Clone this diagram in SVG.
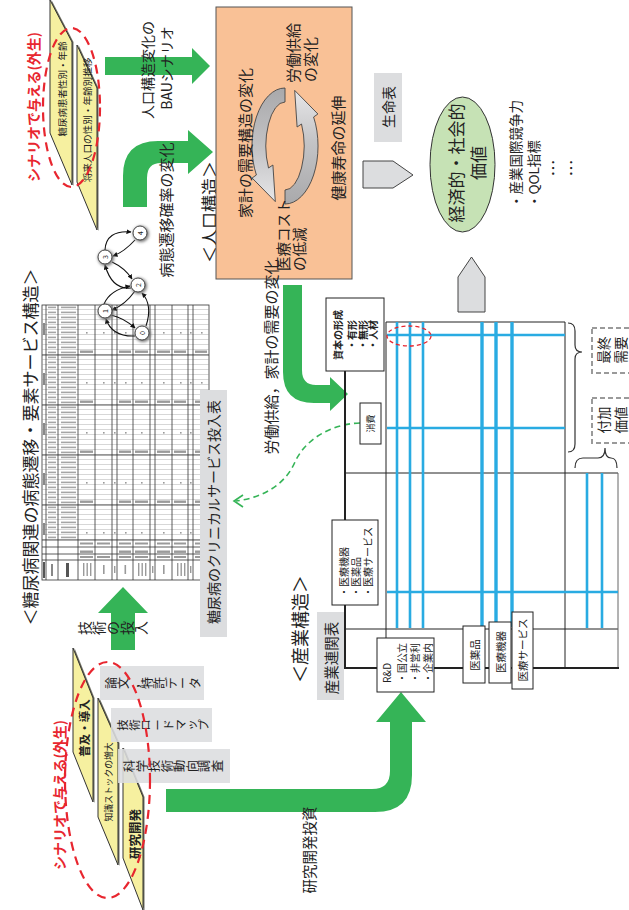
<svg xmlns="http://www.w3.org/2000/svg" width="629" height="910" viewBox="0 0 629 910">
<defs>
<style>
.t{font-family:"Noto Sans CJK JP","Noto Sans CJK SC","Noto Sans",sans-serif;fill:#222}
.v{text-anchor:middle;dominant-baseline:central}
.s{text-anchor:start;dominant-baseline:central}
.grn{fill:#35b457}
.gbox{fill:#dcdddf}
.wb{fill:#fff;stroke:#222;stroke-width:1}
.bl{stroke:#29abe2;stroke-width:2.6;fill:none}
.bl2{stroke:#29abe2;stroke-width:3.4;fill:none}
.yl{fill:#f6f0a0;stroke:#333;stroke-width:1}
.ysh{fill:#6f6f60}
.rdash{fill:none;stroke:#e8262f;stroke-width:2.2;stroke-dasharray:9 6}
.red{fill:#e8262f;font-weight:bold}
.fr{stroke:#222;stroke-width:1;fill:none}
.tl{stroke:#333;stroke-width:0.8;fill:none}
.edge{fill:none;stroke:#111;stroke-width:1.1;marker-end:url(#ah)}
.dbox{fill:#fff;stroke:#9a9a9a;stroke-width:2;stroke-dasharray:5 3}
.mk{fill:#9a9a9a}
.node{fill:#fff;stroke:#333;stroke-width:0.9}
.shd{fill:#777;filter:url(#blur)}
.pent{fill:#dcdddf;stroke:#444;stroke-width:1}
</style>
<marker id="ah" viewBox="0 0 10 10" refX="9" refY="5" markerWidth="5" markerHeight="5" markerUnits="userSpaceOnUse" orient="auto"><path d="M0,0 L10,5 L0,10 Z" fill="#111"/></marker>
<filter id="blur" x="-60%" y="-60%" width="220%" height="220%"><feGaussianBlur stdDeviation="1.8"/></filter>
<linearGradient id="gA" x1="0" y1="0" x2="0" y2="1"><stop offset="0" stop-color="#a9a9ab"/><stop offset="0.55" stop-color="#c4c4c6"/><stop offset="1" stop-color="#e6e6e8"/></linearGradient>
<linearGradient id="gB" x1="0" y1="0" x2="0" y2="1"><stop offset="0" stop-color="#e6e6e8"/><stop offset="0.45" stop-color="#c4c4c6"/><stop offset="1" stop-color="#a9a9ab"/></linearGradient>
<pattern id="rows" patternUnits="userSpaceOnUse" x="42" y="305" width="167" height="5">
<line x1="0" y1="4.8" x2="167" y2="4.8" stroke="#8a8a8a" stroke-width="0.5"/>
<rect x="6" y="1.6" width="8" height="1.6" fill="#a5a5a5"/>
<rect x="19" y="1.6" width="15" height="1.6" fill="#a5a5a5"/>
</pattern>
<g id="gm">
<rect x="43" y="18" width="2" height="12" fill="#8a8a8a"/>
<g class="mk">
<rect x="80" y="45.5" width="13" height="2.4"/><rect x="119" y="45.5" width="12" height="2.4"/><rect x="135" y="45.5" width="13" height="2.4"/><rect x="157" y="45.5" width="13" height="2.4"/><rect x="174" y="45.5" width="12" height="2.4"/><rect x="195" y="45.5" width="12" height="2.4"/>
<rect x="86" y="27" width="1.6" height="1.6"/><rect x="103" y="27" width="1.6" height="1.6"/><rect x="114" y="27" width="1.6" height="1.6"/><rect x="125" y="27" width="1.6" height="1.6"/><rect x="141" y="27" width="1.6" height="1.6"/><rect x="163" y="27" width="1.6" height="1.6"/><rect x="180" y="27" width="1.6" height="1.6"/><rect x="190" y="27" width="1.6" height="1.6"/><rect x="201" y="27" width="1.6" height="1.6"/>
</g>
</g>
</defs>

<rect x="0" y="0" width="629" height="910" fill="#fff"/>

<!-- connectors -->
<g id="connectors">
<path class="grn" d="M105,57 L192,57 L192,48 L210,66 L192,84 L192,75 L105,75 Z"/>
<path class="grn" d="M123,207 L123,176 Q123,141 158,141 L188,141 L188,130 L213,152 L188,174 L188,163 L161,163 Q147,163 147,178 L147,207 Z"/>
<path class="grn" d="M283,285 L283,372 Q283,403 314,403 L330,403 L330,411 L348,394 L330,377 L330,385 L316,385 Q302,385 302,370 L302,285 Z"/>
<path class="grn" d="M111,650 L111,613 L98,613 L123,587 L148,613 L135,613 L135,650 Z"/>
<path class="grn" d="M166,789 L372,789 Q390,789 390,771 L390,722 L376,722 L401,692 L426,722 L412,722 L412,775 Q412,812 375,812 L166,812 Z"/>
<path d="M360,423 C330,424 305,440 295,462 C285,485 262,498 236,501" fill="none" stroke="#35b457" stroke-width="1.6" stroke-dasharray="6 4"/>
<path d="M243,495 L234,501 L243,507" fill="none" stroke="#35b457" stroke-width="1.6"/>
<polygon class="pent" points="363,161 393,161 413,175 393,188 363,188"/>
<polygon class="pent" points="458,312 458,277 471.5,257 485,277 485,312"/>
</g>

<g id="title-left"><text class="t v" font-size="17" transform="translate(29,447) rotate(-90)">＜糖尿病関連の病態遷移・要素サービス構造＞</text></g>

<g id="scenario-top">
<polygon class="ysh" points="51.5,0 73.5,42 73.5,186 51.5,134"/>
<polygon class="yl" points="50,0 72,42 72,185 50,133"/>
<polygon class="ysh" points="78.5,45 98.5,88 98.5,231 78.5,183"/>
<polygon class="yl" points="77,45 97,88 97,230 77,182"/>
<text class="t v" font-size="9.5" transform="translate(62,89) rotate(-90)">糖尿病患者性別・年齢</text>
<text class="t v" font-size="9.6" transform="translate(87,120) rotate(-90)">将来人口の性別・年齢別推移</text>
<ellipse class="rdash" cx="71.5" cy="107.5" rx="28.5" ry="79.5"/>
<text class="t v red" font-size="14" transform="translate(33,107) rotate(-90)">シナリオで与える(外生)</text>
</g>

<g id="label-bau">
<text class="t v" font-size="14" transform="translate(147,70) rotate(-90)">人口構造変化の</text>
<text class="t v" font-size="14" transform="translate(166,68) rotate(-90)">BAUシナリオ</text>
</g>
<g id="label-transition"><text class="t v" font-size="15" transform="translate(165,210) rotate(-90)">病態遷移確率の変化</text></g>
<g id="title-pop"><text class="t v" font-size="17" transform="translate(208,212) rotate(-90)">＜人口構造＞</text></g>

<g id="population-box">
<rect x="216" y="7" width="136" height="272" fill="#f9c196" stroke="#555" stroke-width="1"/>
<path d="M285,88 A33,58 0 0 0 256.4,175 L252.1,178 L275.3,201.6 L272.9,165 L268.5,168 A19,44 0 0 1 285,102 Z" fill="url(#gA)" stroke="#444" stroke-width="0.9"/>
<path d="M285,204 A33,58 0 0 0 313.6,117 L317.9,114 L294.7,90.4 L297.1,127 L301.5,124 A19,44 0 0 1 285,190 Z" fill="url(#gB)" stroke="#444" stroke-width="0.9"/>
<text class="t v" font-size="15" transform="translate(244,143) rotate(-90)">家計の需要構造の変化</text>
<text class="t s" font-size="15" transform="translate(292,83) rotate(-90)">労働供給</text>
<text class="t s" font-size="15" transform="translate(309,82) rotate(-90)">の変化</text>
<text class="t v" font-size="15" transform="translate(337,148) rotate(-90)">健康寿命の延伸</text>
<text class="t s" font-size="14.5" transform="translate(282,271) rotate(-90)">医療コスト</text>
<text class="t s" font-size="14.5" transform="translate(298,271) rotate(-90)">の低減</text>
</g>

<g id="life-table">
<rect class="gbox" x="374" y="73" width="28" height="69"/>
<text class="t v" font-size="14" transform="translate(388,107) rotate(-90)">生命表</text>
</g>

<g id="value">
<ellipse cx="462.5" cy="164.5" rx="32.5" ry="67.5" fill="#c6e2b5" stroke="#333" stroke-width="1"/>
<text class="t v" font-size="17" transform="translate(455,163) rotate(-90)">経済的・社会的</text>
<text class="t v" font-size="17" transform="translate(477,163) rotate(-90)">価値</text>
<text class="t s" font-size="13.5" transform="translate(515,208) rotate(-90)">・産業国際競争力</text>
<text class="t s" font-size="13.5" transform="translate(533,208) rotate(-90)">・QOL指標</text>
<text class="t v" font-size="17" transform="translate(552,168) rotate(-90)">…</text>
<text class="t v" font-size="17" transform="translate(570,168) rotate(-90)">…</text>
</g>

<g id="labor-label"><text class="t v" font-size="15" transform="translate(270,357) rotate(-90)">労働供給，家計の需要の変化</text></g>

<g id="clinical-table">
<rect x="42" y="305" width="167" height="275" fill="#fff" stroke="#333" stroke-width="0.8"/>
<rect x="42" y="305" width="167" height="235" fill="url(#rows)"/>
<use href="#gm" y="305"/><use href="#gm" y="355"/><use href="#gm" y="405"/><use href="#gm" y="455"/><use href="#gm" y="505"/>
<g class="tl">
<line x1="42" y1="355" x2="209" y2="355"/><line x1="42" y1="405" x2="209" y2="405"/><line x1="42" y1="455" x2="209" y2="455"/><line x1="42" y1="505" x2="209" y2="505"/>
<line x1="42" y1="540" x2="209" y2="540"/><line x1="42" y1="547" x2="209" y2="547"/><line x1="42" y1="554" x2="209" y2="554"/><line x1="42" y1="560" x2="209" y2="560"/>
<line x1="46" y1="305" x2="46" y2="580"/><line x1="58" y1="305" x2="58" y2="580"/><line x1="78" y1="305" x2="78" y2="580"/><line x1="95" y1="305" x2="95" y2="580"/><line x1="112" y1="305" x2="112" y2="580"/><line x1="117" y1="305" x2="117" y2="580"/><line x1="133" y1="305" x2="133" y2="580"/><line x1="150" y1="305" x2="150" y2="580"/><line x1="155" y1="305" x2="155" y2="580"/><line x1="172" y1="305" x2="172" y2="580"/><line x1="188" y1="305" x2="188" y2="580"/><line x1="193" y1="305" x2="193" y2="580"/>
</g>
<g class="mk">
<rect x="80" y="542.5" width="13" height="2"/><rect x="97" y="542.5" width="13" height="2"/><rect x="119" y="542.5" width="12" height="2"/><rect x="135" y="542.5" width="13" height="2"/><rect x="157" y="542.5" width="13" height="2"/><rect x="174" y="542.5" width="12" height="2"/><rect x="195" y="542.5" width="12" height="2"/>
<rect x="80" y="556" width="13" height="2"/><rect x="97" y="556" width="13" height="2"/><rect x="119" y="556" width="12" height="2"/><rect x="135" y="556" width="13" height="2"/><rect x="157" y="556" width="13" height="2"/><rect x="174" y="556" width="12" height="2"/><rect x="195" y="556" width="12" height="2"/>
<rect x="83" y="563" width="1.4" height="13"/><rect x="86.5" y="563" width="1.4" height="13"/><rect x="90" y="563" width="1.4" height="13"/>
<rect x="103" y="565" width="1.6" height="9"/><rect x="114" y="566" width="1.4" height="7"/><rect x="124.5" y="565" width="1.6" height="9"/>
<rect x="138" y="563" width="1.4" height="13"/><rect x="141.5" y="563" width="1.4" height="13"/><rect x="145" y="563" width="1.4" height="13"/>
<rect x="152" y="566" width="1.4" height="7"/><rect x="163" y="565" width="1.6" height="9"/>
<rect x="177" y="563" width="1.4" height="13"/><rect x="180.5" y="563" width="1.4" height="13"/><rect x="184" y="563" width="1.4" height="13"/>
<rect x="190" y="566" width="1.4" height="7"/><rect x="200" y="565" width="1.6" height="9"/>
</g>
<rect x="43" y="562" width="2" height="16" fill="#555"/>
<rect x="51" y="564" width="2" height="12" fill="#888"/>
<rect x="66" y="563" width="3" height="14" fill="#555"/>
</g>

<g id="transition-graph">
<path class="edge" d="M105,250 Q106,230 131,232"/>
<path class="edge" d="M135,240 Q124,252 113,256"/>
<path class="edge" d="M112,262 Q125,268 132,279"/>
<path class="edge" d="M131,288 Q112,290 105,265"/>
<path class="edge" d="M104,304 Q110,290 130,286"/>
<path class="edge" d="M135,291 Q125,305 112,310"/>
<path class="edge" d="M111,315 Q124,318 135,328"/>
<path class="edge" d="M135,336 Q112,337 106,319"/>
<path class="edge" d="M146,326 Q153,305 142,293"/>
<g id="n4"><circle class="shd" cx="141" cy="234" r="8"/><circle class="node" cx="140" cy="233" r="7"/><text class="t v" font-size="7" transform="translate(140,233) rotate(-90)">4</text></g>
<g id="n3"><circle class="shd" cx="106" cy="258" r="8"/><circle class="node" cx="105" cy="257" r="7"/><text class="t v" font-size="7" transform="translate(105,257) rotate(-90)">3</text></g>
<g id="n2"><circle class="shd" cx="139" cy="286" r="8"/><circle class="node" cx="138" cy="285" r="7"/><text class="t v" font-size="7" transform="translate(138,285) rotate(-90)">2</text></g>
<g id="n1"><circle class="shd" cx="106" cy="312" r="8"/><circle class="node" cx="105" cy="311" r="7"/><text class="t v" font-size="7" transform="translate(105,311) rotate(-90)">1</text></g>
<g id="n0"><circle class="shd" cx="143" cy="334" r="8"/><circle class="node" cx="142" cy="333" r="7"/><text class="t v" font-size="7" transform="translate(142,333) rotate(-90)">0</text></g>
</g>

<g id="clinical-label">
<rect class="gbox" x="200" y="390" width="27" height="247"/>
<text class="t v" font-size="14" transform="translate(213,512) rotate(-90)">糖尿病のクリニカルサービス投入表</text>
</g>

<g id="tech-input-label"><text class="t" font-size="14" x="90.3" y="635" rotate="-90">技術の投入</text></g>

<g id="scenario-bottom">
<polygon class="ysh" points="74.5,648 94.5,698 94.5,803 74.5,753"/>
<polygon class="yl" points="73,648 93,698 93,802 73,752"/>
<polygon class="ysh" points="99.5,698 119.5,743 119.5,866 99.5,818"/>
<polygon class="yl" points="98,698 118,743 118,865 98,817"/>
<polygon class="ysh" points="124.5,748 144.5,797 144.5,911 124.5,859"/>
<polygon class="yl" points="123,748 143,797 143,910 123,858"/>
<text class="t v" font-size="11.5" font-weight="bold" transform="translate(83.5,728) rotate(-90)">普及・導入</text>
<text class="t v" font-size="8.8" transform="translate(108,782) rotate(-90)">知識ストックの増大</text>
<text class="t v" font-size="12.5" font-weight="bold" transform="translate(134,834) rotate(-90)">研究開発</text>
<rect class="gbox" x="100" y="666" width="104" height="34" fill-opacity="0.88"/>
<rect class="gbox" x="111" y="708" width="101" height="34" fill-opacity="0.88"/>
<rect class="gbox" x="118" y="749" width="112" height="34" fill-opacity="0.88"/>
<text class="t" font-size="12" x="115.6" y="689" rotate="-90">論文，特許データ</text>
<text class="t" font-size="11.5" x="127.1" y="730.8" rotate="-90">技術ロードマップ</text>
<text class="t" font-size="12.5" x="134" y="772.3" rotate="-90">科学技術動向調査</text>
<ellipse class="rdash" cx="107.5" cy="780" rx="42.5" ry="118"/>
<text class="t v red" font-size="14" transform="translate(59,795) rotate(-90)">シナリオで与える(外生)</text>
</g>

<g id="rd-label"><text class="t v" font-size="14.5" transform="translate(308,850) rotate(-90)">研究開発投資</text></g>

<g id="io-table">
<g class="fr">
<line x1="386" y1="322" x2="565" y2="322"/>
<line x1="386" y1="322" x2="386" y2="668"/>
<line x1="565" y1="322" x2="565" y2="668"/>
<line x1="345" y1="473" x2="618" y2="473"/>
<line x1="345" y1="629" x2="618" y2="629"/>
<line x1="618" y1="473" x2="618" y2="668" stroke="#666"/>
<line x1="345" y1="371" x2="345" y2="669" stroke-width="2"/>
<line x1="344" y1="668" x2="619" y2="668" stroke-width="2"/>
</g>
<line class="bl" x1="397" y1="322" x2="397" y2="628"/>
<line class="bl" x1="410" y1="322" x2="410" y2="628"/>
<line class="bl" x1="423" y1="322" x2="423" y2="628"/>
<line class="bl2" x1="482" y1="322" x2="482" y2="627"/>
<line class="bl2" x1="496" y1="322" x2="496" y2="627"/>
<line class="bl2" x1="512" y1="322" x2="512" y2="627"/>
<line class="bl" x1="587" y1="473" x2="587" y2="628"/>
<line class="bl" x1="602" y1="473" x2="602" y2="628"/>
<line class="bl" x1="387" y1="335" x2="565" y2="335"/>
<line class="bl" x1="387" y1="428" x2="565" y2="428"/>
<line class="bl" x1="387" y1="592" x2="618" y2="592"/>
<ellipse cx="409" cy="336" rx="22" ry="10" fill="none" stroke="#e8262f" stroke-width="1.3" stroke-dasharray="4 3"/>
<path d="M568,323 Q575,323 575,331 L575,345 Q575,352 582,352 Q575,352 575,359 L575,444 Q575,452 568,452" fill="none" stroke="#333" stroke-width="1.2"/>
<path d="M575,468 Q575,458 583,458 L598,458 Q605,458 605,448 Q605,458 611,458 Q617,458 617,468" fill="none" stroke="#333" stroke-width="1.2"/>
</g>

<g id="capital-box">
<rect class="wb" x="326" y="298" width="58" height="73"/>
<text class="t v" font-size="10" font-weight="bold" transform="translate(337,335) rotate(-90)">資本の形成</text>
<text class="t v" font-size="10" font-weight="bold" transform="translate(351,335) rotate(-90)">・有形</text>
<text class="t v" font-size="10" font-weight="bold" transform="translate(362,335) rotate(-90)">・無形</text>
<text class="t v" font-size="10" font-weight="bold" transform="translate(372,335) rotate(-90)">・人材</text>
</g>

<g id="consumption-box">
<rect class="wb" x="360" y="403" width="21" height="41"/>
<text class="t v" font-size="9" transform="translate(370.5,423.5) rotate(-90)">消費</text>
</g>

<g id="sector-box">
<rect class="wb" x="332" y="520" width="46" height="85"/>
<text class="t s" font-size="10" transform="translate(343,597) rotate(-90)">・医療機器</text>
<text class="t s" font-size="10" transform="translate(355,597) rotate(-90)">・医薬品</text>
<text class="t s" font-size="10" transform="translate(367,597) rotate(-90)">・医療サービス</text>
</g>

<g id="io-label">
<rect class="gbox" x="317" y="612" width="27" height="88"/>
<text class="t v" font-size="14.5" transform="translate(330.5,658) rotate(-90)">産業連関表</text>
</g>

<g id="title-industry"><text class="t v" font-size="18" transform="translate(299,629) rotate(-90)">＜産業構造＞</text></g>

<g id="rd-box">
<rect class="wb" x="377" y="638" width="57" height="54"/>
<text class="t s" font-size="10" transform="translate(386,683) rotate(-90)">R&amp;D</text>
<text class="t s" font-size="10" transform="translate(401,683) rotate(-90)">・国公立</text>
<text class="t s" font-size="10" transform="translate(414,683) rotate(-90)">・非営利</text>
<text class="t s" font-size="10" transform="translate(427,683) rotate(-90)">・企業内</text>
</g>

<g id="pharma-box"><rect class="wb" x="463" y="626" width="22" height="57"/><text class="t v" font-size="10.5" transform="translate(474,655) rotate(-90)">医薬品</text></g>
<g id="device-box"><rect class="wb" x="489" y="622" width="22" height="61"/><text class="t v" font-size="10.5" transform="translate(500,652) rotate(-90)">医療機器</text></g>
<g id="service-box"><rect class="wb" x="512" y="612" width="21" height="77"/><text class="t v" font-size="10.5" transform="translate(522.5,650) rotate(-90)">医療サービス</text></g>

<g id="final-demand">
<rect class="dbox" x="592" y="328" width="42" height="45"/>
<text class="t v" font-size="13.5" fill="#333" transform="translate(603,350) rotate(-90)">最終</text>
<text class="t v" font-size="13.5" fill="#333" transform="translate(620,350) rotate(-90)">需要</text>
</g>
<g id="value-added">
<rect class="dbox" x="592" y="398" width="42" height="45"/>
<text class="t v" font-size="13.5" fill="#333" transform="translate(603,420) rotate(-90)">付加</text>
<text class="t v" font-size="13.5" fill="#333" transform="translate(620,420) rotate(-90)">価値</text>
</g>
</svg>
